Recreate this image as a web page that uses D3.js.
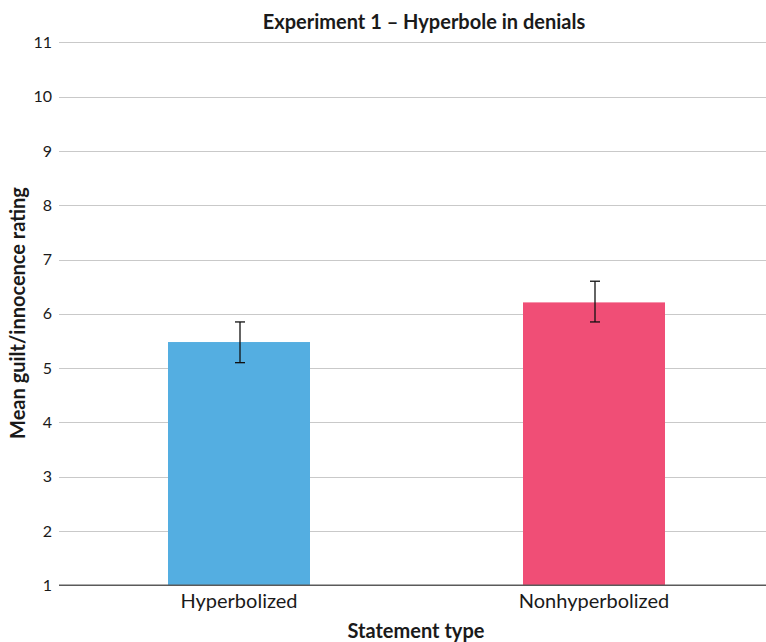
<!DOCTYPE html>
<html>
<head>
<meta charset="utf-8">
<script src="https://cdn.jsdelivr.net/npm/d3@7"></script>
<style>
  html, body { margin: 0; padding: 0; background: #fff; }
  svg { display: block; }
  text { font-family: Lato, "Open Sans", sans-serif; fill: #1a1a1a; }
</style>
</head>
<body>
<svg id="chart" width="766" height="642"></svg>
<script>
const categories = ["Hyperbolized", "Nonhyperbolized"];
const means = [5.48, 6.21];
const errLow = [5.10, 5.85];
const errHigh = [5.85, 6.60];
const barColors = ["#54aee1", "#f04e76"];
const yTicks = [1, 2, 3, 4, 5, 6, 7, 8, 9, 10, 11];
const titleText = "Experiment 1 – Hyperbole in denials";
const xLabel = "Statement type";
const yLabel = "Mean guilt/innocence rating";

const svg = d3.select("#chart");
const gridLeft = 59, gridRight = 766;

const y = d3.scaleLinear().domain([1, 11]).range([585.3, 42.3]);
const x = d3.scaleBand().domain(categories).range([61.5, 771.5])
  .paddingInner(0.6).paddingOuter(0.3);

// gridlines
svg.append("g").selectAll("line")
  .data(yTicks.filter(d => d !== 1))
  .join("line")
  .attr("x1", gridLeft).attr("x2", gridRight)
  .attr("y1", d => Math.round(y(d)) + 0.5).attr("y2", d => Math.round(y(d)) + 0.5)
  .attr("stroke", "#c9c9c9").attr("stroke-width", 1);

// y tick labels via axis
const yAxis = d3.axisLeft(y).tickValues(yTicks).tickSize(0).tickPadding(0).tickFormat(d3.format("d"));
const yg = svg.append("g").attr("transform", `translate(${52},0)`).call(yAxis);
yg.select(".domain").remove();
yg.selectAll("text").attr("font-size", 16).attr("fill", "#1a1a1a")
  .style("font-family", "Lato, 'Open Sans', sans-serif");

// bars
svg.append("g").selectAll("rect")
  .data(categories)
  .join("rect")
  .attr("x", d => x(d))
  .attr("width", x.bandwidth())
  .attr("y", (d, i) => y(means[i]))
  .attr("height", (d, i) => y(1) - y(means[i]))
  .attr("fill", (d, i) => barColors[i]);

// baseline
svg.append("line")
  .attr("x1", gridLeft).attr("x2", gridRight)
  .attr("y1", y(1)).attr("y2", y(1))
  .attr("stroke", "#5a5a5a").attr("stroke-width", 1.5);

// error bars
const eg = svg.append("g").attr("stroke", "#111").attr("stroke-width", 1.3);
categories.forEach((c, i) => {
  const cx = x(c) + x.bandwidth() / 2 + 1;
  eg.append("line").attr("x1", cx).attr("x2", cx).attr("y1", y(errHigh[i])).attr("y2", y(errLow[i]));
  eg.append("line").attr("x1", cx - 5).attr("x2", cx + 5).attr("y1", y(errHigh[i])).attr("y2", y(errHigh[i]));
  eg.append("line").attr("x1", cx - 5).attr("x2", cx + 5).attr("y1", y(errLow[i])).attr("y2", y(errLow[i]));
});

// x category labels via axis
const xAxis = d3.axisBottom(x).tickSize(0).tickPadding(0);
const xg = svg.append("g").attr("transform", `translate(0,${y(1) + 8})`).call(xAxis);
xg.select(".domain").remove();
xg.selectAll("text").attr("font-size", 20).attr("fill", "#1a1a1a")
  .style("font-family", "Lato, 'Open Sans', sans-serif");

// title
svg.append("text").attr("x", 424).attr("y", 29).attr("text-anchor", "middle")
  .attr("font-size", 20).attr("font-weight", "bold").text(titleText);

// x label
svg.append("text").attr("x", 416).attr("y", 638).attr("text-anchor", "middle")
  .attr("font-size", 20).attr("font-weight", "bold").text(xLabel);

// y label
svg.append("text").attr("transform", `translate(25,313) rotate(-90)`).attr("text-anchor", "middle")
  .attr("font-size", 20).attr("font-weight", "bold").text(yLabel);
</script>
</body>
</html>
